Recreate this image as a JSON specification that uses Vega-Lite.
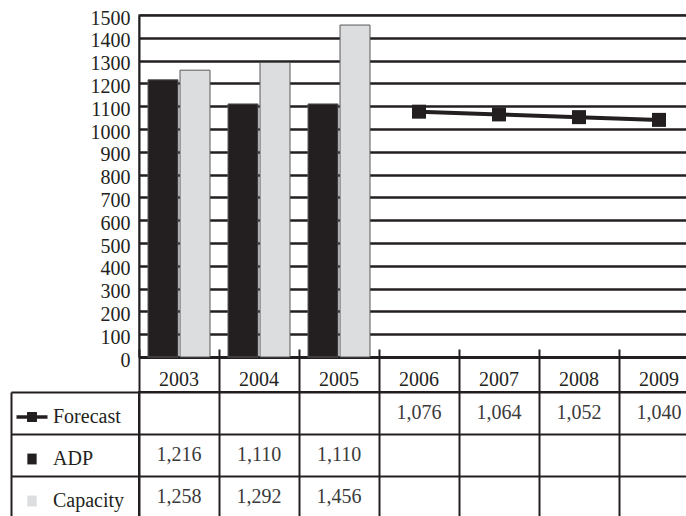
{
  "$schema": "https://vega.github.io/schema/vega-lite/v6.json",
  "autosize": {"type": "pad"},
  "padding": {"left": 9, "top": 7, "right": 0, "bottom": 0},
  "background": "white",
  "data": {
    "values": [
      {"year": "2003", "series": "ADP", "value": 1216},
      {"year": "2003", "series": "Capacity", "value": 1258},
      {"year": "2004", "series": "ADP", "value": 1110},
      {"year": "2004", "series": "Capacity", "value": 1292},
      {"year": "2005", "series": "ADP", "value": 1110},
      {"year": "2005", "series": "Capacity", "value": 1456},
      {"year": "2006", "series": "Forecast", "value": 1076},
      {"year": "2007", "series": "Forecast", "value": 1064},
      {"year": "2008", "series": "Forecast", "value": 1052},
      {"year": "2009", "series": "Forecast", "value": 1040}
    ]
  },
  "spacing": 35,
  "bounds": "flush",
  "resolve": {"scale": {"color": "independent", "shape": "independent"}, "legend": {"color": "independent", "shape": "independent"}},
  "config": {
    "font": "Liberation Serif",
    "view": {"stroke": null},
    "axis": {"labelFont": "Liberation Serif", "titleFont": "Liberation Serif"},
    "legend": {"labelFont": "Liberation Serif"}
  },
  "vconcat": [
    {
      "width": 560,
      "height": 342,
      "view": {"stroke": "#58595b", "strokeWidth": 1.5},
      "resolve": {"axis": {"x": "independent"}},
      "encoding": {
        "y": {
          "field": "value", "type": "quantitative",
          "scale": {"domain": [0, 1500], "nice": false},
          "axis": {
            "title": null,
            "values": [0,100,200,300,400,500,600,700,800,900,1000,1100,1200,1300,1400,1500],
            "tickCount": 20,
            "format": "d",
            "labelOverlap": false,
            "grid": true,
            "gridColor": "#231f20",
            "gridWidth": 2.4,
            "domain": true, "domainColor": "#231f20", "domainWidth": 2,
            "ticks": false, "labelPadding": 9, "labelFontSize": 20, "labelColor": "#231f20", "labelOffset": 3
          }
        }
      },
      "layer": [
        {
          "mark": {"type": "bar", "stroke": "#58595b", "strokeWidth": 1},
          "transform": [{"filter": "datum.series !== 'Forecast'"}],
          "encoding": {
            "x": {
              "field": "year", "type": "ordinal",
              "scale": {"domain": ["2003","2004","2005","2006","2007","2008","2009"], "paddingInner": 0, "paddingOuter": 0},
              "axis": {
                "title": null, "orient": "bottom", "labelAngle": 0, "bandPosition": 0,
                "domain": true, "domainColor": "#231f20", "domainWidth": 3,
                "ticks": true, "tickSize": 35, "tickColor": "#231f20", "tickWidth": 2,
                "labelFontSize": 20, "labelColor": "#231f20", "labelPadding": -13, "labelBaseline": "middle",
                "grid": false
              }
            },
            "xOffset": {
              "field": "series", "type": "nominal",
              "scale": {"domain": ["ADP", "Capacity"], "paddingInner": 0.0625, "paddingOuter": 0.28125}
            },
            "color": {
              "condition": {"test": "datum.series === 'ADP'", "value": "#231f20"},
              "value": "#dcdddf"
            }
          }
        },
        {
          "mark": {"type": "line", "color": "#231f20", "strokeWidth": 4},
          "transform": [{"filter": "datum.series === 'Forecast'"}],
          "encoding": {
            "x": {
              "field": "year", "type": "ordinal",
              "axis": {
                "title": null, "orient": "bottom", "labels": false, "domain": false, "grid": false,
                "bandPosition": 0, "ticks": true, "tickSize": -8, "tickColor": "#231f20", "tickWidth": 2
              }
            }
          }
        },
        {
          "mark": {"type": "point", "shape": "square", "filled": true, "color": "#231f20", "size": 196, "opacity": 1},
          "transform": [{"filter": "datum.series === 'Forecast'"}],
          "encoding": {
            "x": {"field": "year", "type": "ordinal", "axis": null}
          }
        }
      ]
    },
    {
      "width": 560,
      "height": 126,
      "view": {"stroke": "#231f20", "strokeWidth": 2},
      "encoding": {
        "x": {
          "field": "year", "type": "ordinal",
          "scale": {"type": "band", "domain": ["2003","2004","2005","2006","2007","2008","2009"], "paddingInner": 0, "paddingOuter": 0},
          "axis": {"title": null, "labels": false, "domain": false, "grid": false, "bandPosition": 0,
                   "ticks": true, "tickSize": -126, "tickColor": "#231f20", "tickWidth": 2}
        },
        "y": {
          "field": "series", "type": "nominal",
          "scale": {"type": "band", "domain": ["Forecast", "ADP", "Capacity"], "paddingInner": 0, "paddingOuter": 0},
          "axis": {
            "title": null, "labels": false, "grid": false, "bandPosition": 0,
            "domain": true, "domainColor": "#231f20", "domainWidth": 2, "offset": 128,
            "ticks": true, "tickSize": -690, "tickColor": "#231f20", "tickWidth": 2
          }
        }
      },
      "layer": [
        {
          "mark": {"type": "text", "fontSize": 20, "font": "Liberation Serif", "color": "#3a3a3a", "baseline": "middle"},
          "encoding": {
            "text": {"field": "value", "type": "quantitative", "format": ","}
          }
        },
        {
          "mark": {"type": "point", "filled": true, "opacity": 0, "size": 961},
          "encoding": {
            "shape": {
              "field": "series", "type": "nominal",
              "scale": {"domain": ["Forecast", "ADP", "Capacity"],
                        "range": ["M-1,-0.11H-0.32V-0.32H0.32V-0.11H1V0.11H0.32V0.32H-0.32V0.11H-1Z", "M-0.3,-0.35H0.3V0.35H-0.3Z", "M-0.3,-0.35H0.3V0.35H-0.3Z"]},
              "legend": {
                "orient": "none", "legendX": -123, "legendY": 9, "title": null, "padding": 0,
                "symbolSize": 961, "symbolOpacity": 1, "rowPadding": 16, "labelOffset": 5,
                "symbolStrokeColor": "#58595b", "symbolStrokeWidth": 1,
                "labelFontSize": 20, "labelColor": "#231f20"
              }
            },
            "color": {
              "field": "series", "type": "nominal",
              "scale": {"domain": ["Forecast", "ADP", "Capacity"], "range": ["#231f20", "#231f20", "#dcdddf"]},
              "legend": {
                "orient": "none", "legendX": -123, "legendY": 9, "title": null, "padding": 0,
                "symbolSize": 961, "symbolOpacity": 1, "rowPadding": 16, "labelOffset": 5,
                "symbolStrokeColor": "#58595b", "symbolStrokeWidth": 1,
                "labelFontSize": 20, "labelColor": "#231f20"
              }
            }
          }
        }
      ]
    }
  ]
}
